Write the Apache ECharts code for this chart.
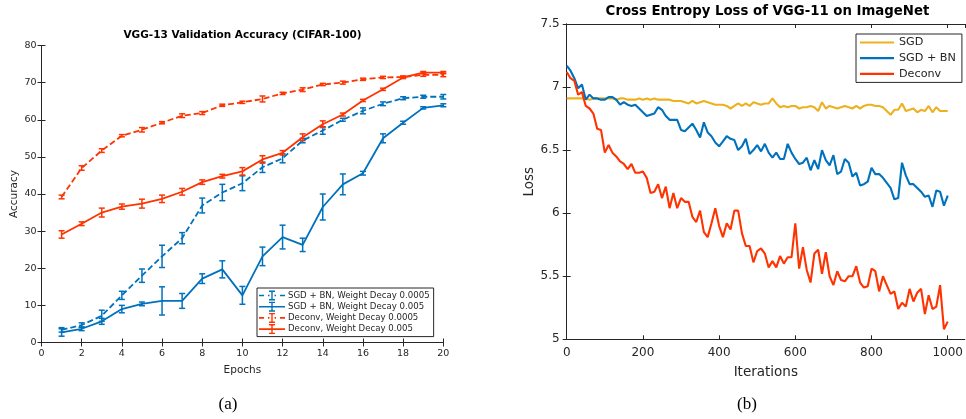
<!DOCTYPE html>
<html>
<head>
<meta charset="utf-8">
<script src="https://cdn.jsdelivr.net/npm/echarts@6/dist/echarts.min.js"></script>
<style>
  html, body { margin: 0; padding: 0; background: #fff; }
  #chart { width: 966px; height: 419px; }
</style>
</head>
<body>
<div id="chart"></div>
<script>
// (a) VGG-13 validation accuracy, mean and error per epoch
const epochs = [1, 2, 3, 4, 5, 6, 7, 8, 9, 10, 11, 12, 13, 14, 15, 16, 17, 18, 19, 20];
const sgdBn0005 = [3.4, 4.7, 7.2, 12.7, 18.0, 23.2, 28.1, 36.9, 40.4, 42.9, 47.2, 49.6, 54.4, 57.1, 60.0, 62.4, 64.3, 65.8, 66.2, 66.2];
const sgdBn0005Err = [0.6, 0.6, 1.5, 1.1, 1.8, 3.0, 1.5, 2.0, 2.2, 2.0, 1.4, 1.2, 0.6, 1.0, 0.4, 0.8, 0.5, 0.4, 0.4, 0.6];
const sgdBn005 = [2.7, 3.7, 5.7, 9.0, 10.4, 11.2, 11.2, 17.2, 19.7, 12.7, 23.2, 28.4, 26.3, 36.5, 42.6, 45.6, 55.0, 59.2, 63.2, 63.9];
const sgdBn005Err = [1.0, 0.5, 0.8, 1.0, 0.5, 3.8, 2.0, 1.3, 2.3, 2.4, 2.5, 3.2, 1.8, 3.5, 2.8, 0.5, 1.2, 0.4, 0.3, 0.4];
const deconv0005 = [39.2, 47.0, 51.7, 55.7, 57.3, 59.2, 61.1, 61.8, 63.9, 64.7, 65.6, 67.1, 68.1, 69.5, 70.0, 70.9, 71.4, 71.5, 72.1, 72.1];
const deconv0005Err = [0.5, 0.6, 0.5, 0.3, 0.6, 0.3, 0.5, 0.4, 0.3, 0.3, 0.8, 0.3, 0.5, 0.3, 0.4, 0.3, 0.3, 0.3, 0.4, 0.5];
const deconv005 = [29.1, 32.0, 35.0, 36.6, 37.4, 38.7, 40.6, 43.2, 44.8, 46.1, 49.3, 51.1, 55.3, 58.8, 61.4, 65.2, 68.2, 71.4, 72.7, 72.7];
const deconv005Err = [1.0, 0.5, 1.2, 0.7, 1.2, 1.0, 0.9, 0.6, 0.5, 1.0, 1.0, 0.6, 0.9, 0.9, 0.4, 0.3, 0.3, 0.3, 0.3, 0.3];
const accTicks = [0, 10, 20, 30, 40, 50, 60, 70, 80];
const epochTicks = [0, 2, 4, 6, 8, 10, 12, 14, 16, 18, 20];

// (b) VGG-11 ImageNet loss, one sample every 10 iterations (0..1000)
const iterStep = 10;
const lossSgd = [
  6.91, 6.91, 6.91, 6.91, 6.91, 6.91, 6.90, 6.91, 6.91, 6.91, 6.91,
  6.91, 6.91, 6.90, 6.91, 6.91, 6.90, 6.90, 6.90, 6.91, 6.90,
  6.91, 6.90, 6.91, 6.90, 6.90, 6.90, 6.90, 6.89, 6.89, 6.89,
  6.88, 6.87, 6.89, 6.87, 6.88, 6.89, 6.88, 6.87, 6.86, 6.86,
  6.86, 6.85, 6.83, 6.85, 6.87, 6.85, 6.87, 6.85, 6.88, 6.87,
  6.86, 6.87, 6.87, 6.91, 6.87, 6.84, 6.85, 6.84, 6.85, 6.85,
  6.83, 6.84, 6.84, 6.85, 6.84, 6.81, 6.88, 6.83, 6.85, 6.84,
  6.83, 6.84, 6.85, 6.84, 6.83, 6.85, 6.83, 6.85, 6.86, 6.86,
  6.85, 6.85, 6.84, 6.81, 6.78, 6.82, 6.82, 6.87, 6.81, 6.82,
  6.83, 6.80, 6.82, 6.81, 6.85, 6.80, 6.84, 6.81, 6.81, 6.81
];
const lossSgdBn = [
  7.17, 7.13, 7.07, 6.99, 7.02, 6.90, 6.94, 6.91, 6.91, 6.90, 6.90,
  6.92, 6.92, 6.90, 6.86, 6.88, 6.86, 6.85, 6.86, 6.83, 6.80,
  6.77, 6.78, 6.79, 6.84, 6.82, 6.77, 6.74, 6.74, 6.74, 6.66,
  6.65, 6.68, 6.71, 6.66, 6.60, 6.72, 6.64, 6.61, 6.56, 6.53,
  6.57, 6.61, 6.59, 6.58, 6.50, 6.53, 6.59, 6.47, 6.50, 6.54,
  6.49, 6.55, 6.48, 6.44, 6.48, 6.43, 6.43, 6.55, 6.48, 6.43,
  6.39, 6.40, 6.44, 6.34, 6.42, 6.35, 6.50, 6.42, 6.38, 6.46,
  6.31, 6.33, 6.43, 6.40, 6.29, 6.32, 6.22, 6.23, 6.25, 6.36,
  6.31, 6.31, 6.28, 6.24, 6.20, 6.11, 6.12, 6.40, 6.30, 6.23,
  6.23, 6.20, 6.17, 6.13, 6.14, 6.05, 6.18, 6.17, 6.06, 6.14
];
const lossDeconv = [
  7.12, 7.07, 7.05, 6.94, 6.96, 6.85, 6.83, 6.79, 6.67, 6.66, 6.48,
  6.54, 6.48, 6.45, 6.41, 6.39, 6.35, 6.39, 6.32, 6.32, 6.33,
  6.28, 6.16, 6.17, 6.23, 6.12, 6.21, 6.04, 6.16, 6.04, 6.12,
  6.09, 6.09, 5.97, 5.93, 6.02, 5.85, 5.81, 5.92, 6.04, 5.90,
  5.81, 5.92, 5.87, 6.02, 6.02, 5.84, 5.74, 5.74, 5.61, 5.70,
  5.72, 5.68, 5.57, 5.62, 5.57, 5.66, 5.60, 5.65, 5.65, 5.92,
  5.56, 5.73, 5.55, 5.45, 5.68, 5.71, 5.52, 5.69, 5.50, 5.43,
  5.54, 5.47, 5.46, 5.50, 5.50, 5.58, 5.45, 5.41, 5.42, 5.56,
  5.54, 5.38, 5.50, 5.43, 5.36, 5.38, 5.24, 5.29, 5.26, 5.40,
  5.30, 5.37, 5.40, 5.20, 5.35, 5.24, 5.26, 5.43, 5.08, 5.14
];
const lossTicks = [5, 5.5, 6, 6.5, 7, 7.5];
const iterTicks = [0, 200, 400, 600, 800, 1000];

const BLUE = '#0072BD';
const RED = '#FF3300';
const YELLOW = '#EDB120';
const AXIS = '#262626';
const FONT = 'DejaVu Sans';

const chart = echarts.init(document.getElementById('chart'), null, { renderer: 'canvas' });

function pairs(xs, ys) { return xs.map((x, i) => [x, ys[i]]); }
function errRows(xs, ys, es) { return xs.map((x, i) => [x, ys[i] - es[i], ys[i] + es[i]]); }
function iterPairs(ys) { return ys.map((y, i) => [i * iterStep, y]); }

function renderErr(params, api) {
  const x = api.value(0);
  const lo = api.coord([x, api.value(1)]);
  const hi = api.coord([x, api.value(2)]);
  const hw = 3;
  const style = { stroke: api.visual('color'), lineWidth: 1.5 };
  return {
    type: 'group',
    children: [
      { type: 'line', shape: { x1: hi[0], y1: hi[1], x2: lo[0], y2: lo[1] }, style },
      { type: 'line', shape: { x1: hi[0] - hw, y1: hi[1], x2: hi[0] + hw, y2: hi[1] }, style },
      { type: 'line', shape: { x1: lo[0] - hw, y1: lo[1], x2: lo[0] + hw, y2: lo[1] }, style }
    ]
  };
}

// legend icons: line with error-bar glyph in a 26x10 box
const ICON_SOLID = 'path://M0 4.2h26v1.6h-26z M10 0h6v1.4h-6z M10 8.6h6v1.4h-6z M12.3 0h1.4v10h-1.4z';
const ICON_DASH = 'path://M0 4.2h5v1.6h-5z M21 4.2h5v1.6h-5z M10 0h6v1.4h-6z M10 8.6h6v1.4h-6z M12.3 0h1.4v10h-1.4z M9 4.2h1.5v1.6h-1.5z M15.5 4.2h1.5v1.6h-1.5z';
const ICON_LINE = 'path://M0 4h34v2.2h-34z';

function boxAxes(gridIndex, xr, yr, xInt, yInt, fontSize, tickLen, xMargin, yMargin) {
  const line = { show: true, lineStyle: { color: AXIS, width: 1 } };
  const tick = { show: true, inside: true, length: tickLen, lineStyle: { color: AXIS, width: 1 } };
  const label = { color: AXIS, fontFamily: FONT, fontSize: fontSize };
  return {
    x: [
      { type: 'value', gridIndex, position: 'bottom', min: xr[0], max: xr[1], interval: xInt,
        axisLine: line, axisTick: tick, splitLine: { show: false },
        axisLabel: Object.assign({ margin: xMargin, showMaxLabel: xr[1] % xInt === 0,
          formatter: v => (v % xInt === 0 ? String(v) : '') }, label) },
      { type: 'value', gridIndex, position: 'top', min: xr[0], max: xr[1], interval: xInt,
        axisLine: line, axisTick: tick, splitLine: { show: false }, axisLabel: { show: false } }
    ],
    y: [
      { type: 'value', gridIndex, position: 'left', min: yr[0], max: yr[1], interval: yInt,
        axisLine: line, axisTick: tick, splitLine: { show: false },
        axisLabel: Object.assign({ margin: yMargin }, label) },
      { type: 'value', gridIndex, position: 'right', min: yr[0], max: yr[1], interval: yInt,
        axisLine: line, axisTick: tick, splitLine: { show: false }, axisLabel: { show: false } }
    ]
  };
}

const axA = boxAxes(0, [epochTicks[0], epochTicks[epochTicks.length - 1]], [accTicks[0], accTicks[accTicks.length - 1]], 2, 10, 9.5, 4, 6, 5);
const axB = boxAxes(1, [iterTicks[0], 1045], [lossTicks[0], lossTicks[lossTicks.length - 1]], 200, 0.5, 12, 4, 8, 7);

Object.assign(axA.x[0], { name: 'Epochs', nameLocation: 'middle', nameGap: 22,
  nameTextStyle: { color: AXIS, fontFamily: FONT, fontSize: 10.5 } });
Object.assign(axA.y[0], { name: 'Accuracy', nameLocation: 'middle', nameGap: 22,
  nameTextStyle: { color: AXIS, fontFamily: FONT, fontSize: 10.5 } });
Object.assign(axB.x[0], { name: 'Iterations', nameLocation: 'middle', nameGap: 26,
  nameTextStyle: { color: AXIS, fontFamily: FONT, fontSize: 13.5 } });
Object.assign(axB.y[0], { name: 'Loss', nameLocation: 'middle', nameGap: 30,
  nameTextStyle: { color: AXIS, fontFamily: FONT, fontSize: 13.5 } });

const nA = ['SGD + BN, Weight Decay 0.0005', 'SGD + BN, Weight Decay 0.005', 'Deconv, Weight Decay 0.0005', 'Deconv, Weight Decay 0.005'];
const nB = ['SGD', 'SGD + BN', 'Deconv'];

function accLine(name, ys, color, dashed) {
  return { type: 'line', name, xAxisIndex: 0, yAxisIndex: 0, data: pairs(epochs, ys),
    showSymbol: false, symbol: 'none', animation: false, color,
    lineStyle: { color, width: 1.8, type: dashed ? [6, 3] : 'solid' }, z: 3 };
}
function accErr(ys, es, color) {
  return { type: 'custom', name: 'err', xAxisIndex: 0, yAxisIndex: 0, data: errRows(epochs, ys, es),
    renderItem: renderErr, itemStyle: { color }, animation: false, z: 3, encode: { x: 0, y: [1, 2] } };
}
function lossLine(name, ys, color) {
  return { type: 'line', name, xAxisIndex: 2, yAxisIndex: 2, data: iterPairs(ys),
    showSymbol: false, symbol: 'none', animation: false, color,
    lineStyle: { color, width: 2.1 } };
}

chart.setOption({
  animation: false,
  title: [
    { text: 'VGG-13 Validation Accuracy (CIFAR-100)', left: 242.5, top: 30, textAlign: 'center', padding: 0,
      textStyle: { fontFamily: FONT, fontWeight: 'bold', fontSize: 10.5, color: '#000' } },
    { text: 'Cross Entropy Loss of VGG-11 on ImageNet', left: 767.5, top: 5, textAlign: 'center', padding: 0,
      textStyle: { fontFamily: FONT, fontWeight: 'bold', fontSize: 13.3, color: '#000' } },
    { text: '(a)', left: 228, top: 396, textAlign: 'center', padding: 0,
      textStyle: { fontFamily: 'Liberation Serif', fontWeight: 'normal', fontSize: 17, color: '#000' } },
    { text: '(b)', left: 747, top: 396, textAlign: 'center', padding: 0,
      textStyle: { fontFamily: 'Liberation Serif', fontWeight: 'normal', fontSize: 17, color: '#000' } }
  ],
  grid: [
    { left: 41.5, top: 45.5, width: 401.8, height: 297 },
    { left: 566.7, top: 24, width: 399.9, height: 315.3 }
  ],
  xAxis: axA.x.concat(axB.x),
  yAxis: axA.y.concat(axB.y),
  legend: [
    { data: [
        { name: nA[0], icon: ICON_DASH }, { name: nA[1], icon: ICON_SOLID },
        { name: nA[2], icon: ICON_DASH }, { name: nA[3], icon: ICON_SOLID }
      ],
      orient: 'vertical', left: 257, top: 288, itemWidth: 26, itemHeight: 10, itemGap: 1.2,
      padding: [2.5, 4, 2.5, 2], borderColor: AXIS, borderWidth: 1, backgroundColor: '#fff',
      selectedMode: false, textStyle: { fontFamily: FONT, fontSize: 8.6, color: AXIS, padding: [0, 0, 0, -2] } },
    { data: nB.map(n => ({ name: n, icon: ICON_LINE })), orient: 'vertical', left: 856, top: 34,
      itemWidth: 34, itemHeight: 10, itemGap: 4.7,
      padding: [3, 6, 3, 4], borderColor: AXIS, borderWidth: 1, backgroundColor: '#fff',
      selectedMode: false, textStyle: { fontFamily: FONT, fontSize: 11.2, color: AXIS } }
  ],
  series: [
    accLine(nA[0], sgdBn0005, BLUE, true), accErr(sgdBn0005, sgdBn0005Err, BLUE),
    accLine(nA[1], sgdBn005, BLUE, false), accErr(sgdBn005, sgdBn005Err, BLUE),
    accLine(nA[2], deconv0005, RED, true), accErr(deconv0005, deconv0005Err, RED),
    accLine(nA[3], deconv005, RED, false), accErr(deconv005, deconv005Err, RED),
    lossLine(nB[0], lossSgd, YELLOW),
    lossLine(nB[1], lossSgdBn, BLUE),
    lossLine(nB[2], lossDeconv, RED)
  ]
});
</script>
</body>
</html>
